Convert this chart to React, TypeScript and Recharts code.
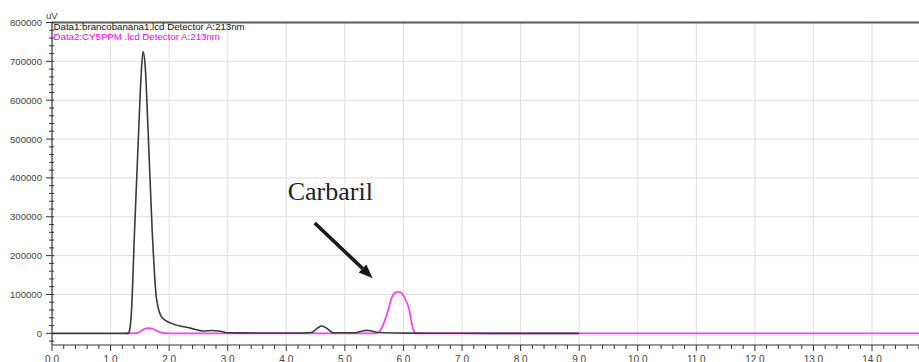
import React from 'react'
import { LineChart, Line, XAxis, YAxis, CartesianGrid, ReferenceLine, ReferenceDot } from 'recharts'

// Data1: blank (brancobanana1.lcd), minutes / uV
const blankTime = [
  0, 1.25, 1.3, 1.32, 1.355, 1.41, 1.48, 1.52, 1.555, 1.59, 1.64, 1.71, 1.78, 1.86, 1.95, 2.05, 2.36, 2.6,
  2.72, 2.85, 3.0, 3.5, 4.3, 4.43, 4.52, 4.6, 4.68, 4.8, 5.17, 5.3, 5.37, 5.45, 5.57, 5.8, 6.5, 7.5, 9.0,
]
const blankSignal = [
  0, 0, 0, 5000, 52000, 266000, 523000, 660000, 725000, 690000, 523000, 266000, 94000, 45000, 32000, 25000, 13500,
  6000, 7500, 6000, 1500, 1000, 1000, 2000, 12000, 18800, 14000, 1500, 1500, 6000, 7700, 6000, 2000, 800, 300, 0, 0,
]

// Data2: standard (CY5PPM.lcd)
const sampleTime = [
  1.25, 1.45, 1.55, 1.63, 1.7, 1.78, 1.88, 2.0, 5.5, 5.58, 5.66, 5.74, 5.8, 5.86, 5.92, 5.98, 6.04, 6.1, 6.14,
  6.19, 6.25, 15,
]
const sampleSignal = [
  0, 500, 9000, 13500, 13000, 7000, 1000, 0, 0, 3000, 25000, 60000, 92000, 105000, 107000, 102000, 85000, 60000,
  26000, 3000, 0, 0,
]

const X_MAJOR = [0, 1, 2, 3, 4, 5, 6, 7, 8, 9, 10, 11, 12, 13, 14, 15]
const X_LABELS = ['0.0', '1.0', '2.0', '3.0', '4.0', '5.0', '6.0', '7.0', '8.0', '9.0', '10.0', '11.0', '12.0', '13.0', '14.0', '15.0']
const Y_MAJOR = [0, 100000, 200000, 300000, 400000, 500000, 600000, 700000, 800000]
const Y_LABELS = ['0', '100000', '200000', '300000', '400000', '500000', '600000', '700000', '800000']

const X_TICKS = Array.from({ length: 76 }, (_, i) => Math.round(i * 2) / 10)
const Y_TICKS = Array.from({ length: 42 }, (_, i) => -20000 + i * 20000)

const blankData = blankTime.map((t, i) => ({ t, v: blankSignal[i] }))
const sampleData = sampleTime.map((t, i) => ({ t, v: sampleSignal[i] }))

const AXIS = '#333'
const LABEL = '#444'
const FONT = '"Liberation Sans", Arial, sans-serif'

const XTick = (props: any) => {
  const { x, y, payload } = props
  const idx = X_MAJOR.indexOf(payload.value)
  const major = idx >= 0
  return (
    <g>
      <line x1={x} x2={x} y1={y} y2={y + (major ? 6 : 4)} stroke={AXIS} strokeWidth={1} />
      {major ? (
        <text x={x} y={y + 18} textAnchor="middle" fontSize={10} fontFamily={FONT} fill={LABEL}>
          {X_LABELS[idx]}
        </text>
      ) : null}
    </g>
  )
}

const YTick = (props: any) => {
  const { x, y, payload } = props
  const idx = Y_MAJOR.indexOf(payload.value)
  const major = idx >= 0
  return (
    <g>
      <line x1={major ? x - 6 : x - 3} x2={x + 2} y1={y} y2={y} stroke={AXIS} strokeWidth={1} />
      {major ? (
        <text x={x - 10} y={y + 3.5} textAnchor="end" fontSize={9.6} fontFamily={FONT} fill={LABEL}>
          {Y_LABELS[idx]}
        </text>
      ) : null}
    </g>
  )
}

const Arrow = (props: any) => {
  const { x1, y1, x2, y2 } = props
  const dx = x2 - x1
  const dy = y2 - y1
  const len = Math.sqrt(dx * dx + dy * dy)
  const ux = dx / len
  const uy = dy / len
  const head = 14
  const bx = x2 - ux * head
  const by = y2 - uy * head
  const px = -uy * 5.5
  const py = ux * 5.5
  return (
    <g>
      <line x1={x1 + 1.5} y1={y1 + 1.5} x2={bx + 1.5} y2={by + 1.5} stroke="#999" strokeWidth={3.5} opacity={0.5} />
      <line x1={x1} y1={y1} x2={bx} y2={by} stroke="#1a1a1a" strokeWidth={3.5} />
      <polygon points={`${x2},${y2} ${bx + px},${by + py} ${bx - px},${by - py}`} fill="#1a1a1a" />
    </g>
  )
}

export default function App() {
  return (
    <div
      style={{
        position: 'absolute',
        left: 0,
        top: 0,
        width: 919,
        height: 362,
        overflow: 'hidden',
        background: '#fff',
      }}
    >
      <LineChart width={960} height={380} margin={{ top: 22.5, right: 29.4, bottom: 0, left: 0 }}>
        <CartesianGrid
          stroke="#dedede"
          horizontalValues={[100000, 200000, 300000, 400000, 500000, 600000, 700000]}
          verticalValues={[1, 2, 3, 4, 5, 6, 7, 8, 9, 10, 11, 12, 13, 14, 15]}
        />
        <XAxis
          dataKey="t"
          type="number"
          domain={[0, 15]}
          ticks={X_TICKS}
          interval={0}
          allowDataOverflow
          height={35}
          tickSize={0}
          tickMargin={0}
          tickLine={false}
          tick={<XTick />}
          axisLine={{ stroke: AXIS, strokeWidth: 1.2 }}
        />
        <YAxis
          type="number"
          domain={[-30000, 800000]}
          ticks={Y_TICKS}
          interval={0}
          allowDataOverflow
          width={52}
          tickSize={0}
          tickMargin={0}
          tickLine={false}
          tick={<YTick />}
          axisLine={{ stroke: AXIS, strokeWidth: 1.2 }}
        />
        <ReferenceLine y={800000} stroke="#5a5a5a" strokeWidth={2} />
        <Line
          data={sampleData}
          dataKey="v"
          type="monotone"
          stroke="#ff3cff"
          strokeWidth={1.7}
          dot={false}
          isAnimationActive={false}
        />
        <Line
          data={blankData}
          dataKey="v"
          type="monotone"
          stroke="#3a3a3a"
          strokeWidth={1.6}
          dot={false}
          isAnimationActive={false}
        />
        <ReferenceLine
          segment={[
            { x: 4.485, y: 284000 },
            { x: 5.475, y: 142000 },
          ]}
          shape={(p: any) => <Arrow {...p} />}
        />
        <ReferenceDot
          x={4.024}
          y={343000}
          r={0}
          shape={(p: any) => (
            <text x={p.cx} y={p.cy} fontSize={26} fontFamily='"Liberation Serif", "Times New Roman", serif' fill="#222">
              Carbaril
            </text>
          )}
        />
      </LineChart>
      <svg width={919} height={362} style={{ position: 'absolute', left: 0, top: 0, pointerEvents: 'none' }}>
        <text x={46} y={18.5} fontSize={9.5} fontFamily={FONT} fill={LABEL}>
          uV
        </text>
        <text x={53.5} y={30} fontSize={9.7} fontFamily={FONT} fill="#111">
          Data1:brancobanana1.lcd Detector A:213nm
        </text>
        <text x={53.5} y={39.5} fontSize={9.7} fontFamily={FONT} fill="#ff00ff">
          Data2:CY5PPM .lcd Detector A:213nm
        </text>
      </svg>
    </div>
  )
}
